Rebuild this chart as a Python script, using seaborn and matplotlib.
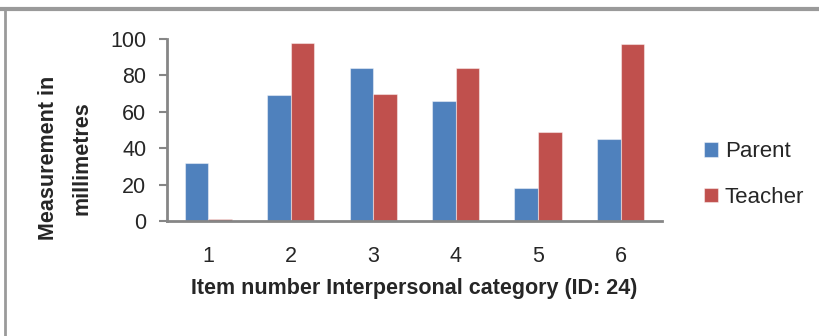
import matplotlib
matplotlib.use("Agg")
import matplotlib.pyplot as plt
from matplotlib.lines import Line2D
import seaborn as sns
import pandas as pd

items = ["1", "2", "3", "4", "5", "6"]
parent = [32, 69, 84, 66, 18, 45]
teacher = [1, 98, 70, 84, 49, 97]
series_names = ["Parent", "Teacher"]
y_ticks = [0, 20, 40, 60, 80, 100]

df = pd.DataFrame({
    "item": items * 2,
    "value": parent + teacher,
    "group": [series_names[0]] * len(items) + [series_names[1]] * len(items),
})

sns.set_theme(style="white")
plt.rcParams["font.family"] = ["Liberation Sans", "DejaVu Sans"]

fig = plt.figure(figsize=(8.2, 3.36), dpi=100)
ax = fig.add_axes([0.2037, 0.342, 0.6033, 0.542])

palette = {"Parent": "#4F81BD", "Teacher": "#C0504D"}
sns.barplot(data=df, x="item", y="value", hue="group", order=items,
            hue_order=series_names, palette=palette, width=0.572,
            saturation=1, ax=ax, legend=True)
for p in ax.patches:
    p.set_edgecolor((1, 1, 1, 0.45))
    p.set_linewidth(0.8)

ax.set_xlim(-0.5, 5.5)
ax.set_ylim(0, 100)
ax.set_yticks(y_ticks)
ax.set_yticklabels([str(t) for t in y_ticks], fontsize=15.5)
ax.tick_params(axis="y", direction="out", length=6, width=1.5, color="#868686",
               pad=9, left=True)
ax.tick_params(axis="x", length=0, pad=18, labelsize=15.5)

for s in ["top", "right"]:
    ax.spines[s].set_visible(False)
for s in ["left", "bottom"]:
    ax.spines[s].set_color("#868686")
    ax.spines[s].set_linewidth(2)

ax.set_xlabel("Item number Interpersonal category (ID: 24)", fontsize=15.5,
              fontweight="bold", labelpad=8)
ax.set_ylabel("Measurement in\nmillimetres", fontsize=15.5, fontweight="bold",
              linespacing=1.75, va="center")
ax.yaxis.set_label_coords(-0.206, 0.346)

ax.legend(loc="center left", bbox_to_anchor=(684 / 820, 1 - 174.5 / 336),
          bbox_transform=fig.transFigure, frameon=False, fontsize=16,
          handlelength=0.63, handleheight=0.63, handletextpad=0.3,
          labelspacing=1.1)

# outer frame: grey rule along the top and down the left side
fig.add_artist(Line2D([0, 1], [1 - 8.5 / 336] * 2, transform=fig.transFigure,
                      color="#9A9A9A", linewidth=3))
fig.add_artist(Line2D([5.5 / 820] * 2, [0, 1 - 8.5 / 336], transform=fig.transFigure,
                      color="#9A9A9A", linewidth=2))

fig.savefig("out.png", dpi=100)
